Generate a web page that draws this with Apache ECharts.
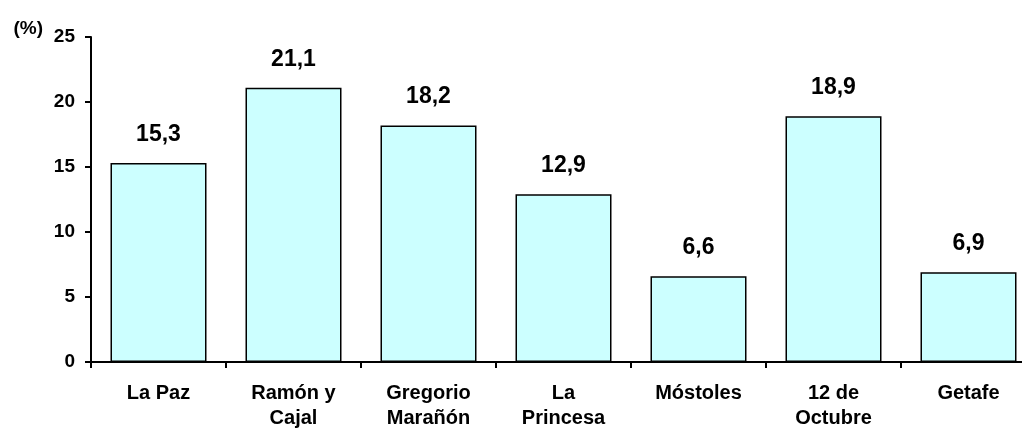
<!DOCTYPE html>
<html>
<head>
<meta charset="utf-8">
<script src="https://cdn.jsdelivr.net/npm/echarts@6/dist/echarts.min.js"></script>
<style>
html,body{margin:0;padding:0;background:#fff;}
#chart{width:1022px;height:432px;}
</style>
</head>
<body>
<div id="chart"></div>
<script>
const categories = ['La Paz', 'Ramón y\nCajal', 'Gregorio\nMarañón', 'La\nPrincesa', 'Móstoles', '12 de\nOctubre', 'Getafe'];
const values = [15.3, 21.1, 18.2, 12.9, 6.6, 18.9, 6.9];
const yTicks = { min: 0, max: 25, interval: 5 };
const yName = '(%)';

const FONT = '"Liberation Sans", Arial, sans-serif';
const chart = echarts.init(document.getElementById('chart'), null, { renderer: 'canvas' });
chart.setOption({
  animation: false,
  backgroundColor: '#ffffff',
  grid: { left: 91, top: 37, bottom: 70, right: -14, containLabel: false, outerBoundsMode: 'none' },
  xAxis: {
    type: 'category',
    data: categories,
    boundaryGap: true,
    axisLine: { lineStyle: { color: '#000', width: 2 } },
    axisTick: { show: true, length: 6, inside: false, lineStyle: { color: '#000', width: 2 } },
    axisLabel: {
      color: '#000', fontFamily: FONT, fontWeight: 'bold', fontSize: 20,
      lineHeight: 25, margin: 19, interval: 0
    },
    splitLine: { show: false }
  },
  yAxis: {
    type: 'value',
    min: yTicks.min, max: yTicks.max, interval: yTicks.interval,
    name: yName,
    nameLocation: 'end',
    nameGap: -1,
    nameTextStyle: {
      color: '#000', fontFamily: FONT, fontWeight: 'bold', fontSize: 19,
      align: 'right', verticalAlign: 'bottom', padding: [0, 48, 0, 0]
    },
    axisLine: { show: true, lineStyle: { color: '#000', width: 2 } },
    axisTick: { show: true, length: 6, lineStyle: { color: '#000', width: 2 } },
    axisLabel: { color: '#000', fontFamily: FONT, fontWeight: 'bold', fontSize: 19, margin: 16 },
    splitLine: { show: false }
  },
  series: [{
    type: 'bar',
    data: values,
    barWidth: 96,
    itemStyle: { color: '#CCFFFF', borderColor: '#000', borderWidth: 1.5 },
    label: {
      show: true, position: 'top', distance: 17,
      color: '#000', fontFamily: FONT, fontWeight: 'bold', fontSize: 23,
      formatter: p => p.value.toFixed(1).replace('.', ',')
    }
  }]
});
</script>
</body>
</html>
